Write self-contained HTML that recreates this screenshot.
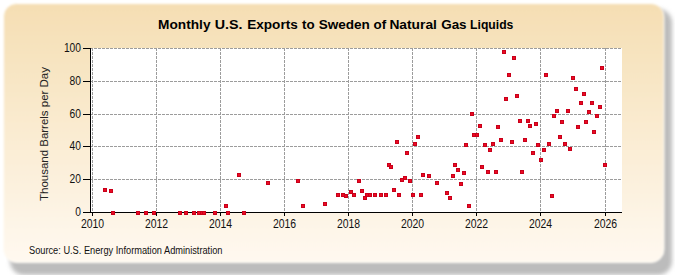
<!DOCTYPE html>
<html><head><meta charset="utf-8"><style>
html,body{margin:0;padding:0;background:#fff;}
svg{display:block;font-family:"Liberation Sans",sans-serif;}
</style></head><body>
<svg width="675" height="275" viewBox="0 0 675 275">
<defs>
<linearGradient id="bg" x1="0" y1="0" x2="0" y2="1">
<stop offset="0" stop-color="#F5DEB3"/>
<stop offset="1" stop-color="#FFF9F0"/>
</linearGradient>
<filter id="sh" x="-5%" y="-5%" width="110%" height="110%"><feGaussianBlur stdDeviation="2.1"/></filter><filter id="soft" x="-2%" y="-2%" width="104%" height="104%"><feGaussianBlur stdDeviation="1"/></filter>
</defs>
<rect x="0" y="0" width="675" height="275" fill="#fff"/>
<rect x="10" y="9" width="662" height="266" rx="14" fill="#bcbcbc" filter="url(#sh)"/>
<rect x="3.5" y="3.5" width="660.5" height="259" rx="13" fill="url(#bg)" stroke="#fffdf8" stroke-width="1" filter="url(#soft)"/>
<rect x="91" y="48" width="531" height="164" fill="#fff"/>
<g stroke="#9c9c9c" stroke-width="1" stroke-dasharray="3 1" shape-rendering="crispEdges">
<line x1="92.5" y1="48" x2="92.5" y2="212"/>
<line x1="156.5" y1="48" x2="156.5" y2="212"/>
<line x1="220.5" y1="48" x2="220.5" y2="212"/>
<line x1="284.5" y1="48" x2="284.5" y2="212"/>
<line x1="348.5" y1="48" x2="348.5" y2="212"/>
<line x1="412.5" y1="48" x2="412.5" y2="212"/>
<line x1="476.5" y1="48" x2="476.5" y2="212"/>
<line x1="540.5" y1="48" x2="540.5" y2="212"/>
<line x1="605.5" y1="48" x2="605.5" y2="212"/>
<line x1="90" y1="179.5" x2="622" y2="179.5"/>
<line x1="90" y1="146.5" x2="622" y2="146.5"/>
<line x1="90" y1="114.5" x2="622" y2="114.5"/>
<line x1="90" y1="81.5" x2="622" y2="81.5"/>
<line x1="90" y1="48.5" x2="622" y2="48.5"/>
</g>
<g stroke="#000" stroke-width="1" shape-rendering="crispEdges">
<line x1="90.5" y1="48" x2="90.5" y2="213"/>
<line x1="90" y1="212.5" x2="622" y2="212.5"/>
<line x1="92.5" y1="212" x2="92.5" y2="216"/>
<line x1="156.5" y1="212" x2="156.5" y2="216"/>
<line x1="220.5" y1="212" x2="220.5" y2="216"/>
<line x1="284.5" y1="212" x2="284.5" y2="216"/>
<line x1="348.5" y1="212" x2="348.5" y2="216"/>
<line x1="412.5" y1="212" x2="412.5" y2="216"/>
<line x1="476.5" y1="212" x2="476.5" y2="216"/>
<line x1="540.5" y1="212" x2="540.5" y2="216"/>
<line x1="605.5" y1="212" x2="605.5" y2="216"/>
<line x1="83" y1="212.5" x2="91" y2="212.5"/>
<line x1="83" y1="179.5" x2="91" y2="179.5"/>
<line x1="83" y1="146.5" x2="91" y2="146.5"/>
<line x1="83" y1="114.5" x2="91" y2="114.5"/>
<line x1="83" y1="81.5" x2="91" y2="81.5"/>
<line x1="83" y1="48.5" x2="91" y2="48.5"/>
</g>
<text y="28.5" font-size="13.4" font-weight="bold" fill="#000"><tspan x="158.1" textLength="52.4" lengthAdjust="spacingAndGlyphs">Monthly</tspan><tspan x="214.8" textLength="27.8" lengthAdjust="spacingAndGlyphs">U.S.</tspan><tspan x="247.2" textLength="50.6" lengthAdjust="spacingAndGlyphs">Exports</tspan><tspan x="302.0" textLength="12.6" lengthAdjust="spacingAndGlyphs">to</tspan><tspan x="318.7" textLength="51.2" lengthAdjust="spacingAndGlyphs">Sweden</tspan><tspan x="373.6" textLength="12.6" lengthAdjust="spacingAndGlyphs">of</tspan><tspan x="389.4" textLength="47.5" lengthAdjust="spacingAndGlyphs">Natural</tspan><tspan x="441.2" textLength="25.4" lengthAdjust="spacingAndGlyphs">Gas</tspan><tspan x="470.1" textLength="43.3" lengthAdjust="spacingAndGlyphs">Liquids</tspan></text>
<g font-size="12" fill="#111" text-anchor="middle">
<text x="92.5" y="227.5" textLength="23.2" lengthAdjust="spacingAndGlyphs">2010</text>
<text x="156.5" y="227.5" textLength="23.2" lengthAdjust="spacingAndGlyphs">2012</text>
<text x="220.5" y="227.5" textLength="23.2" lengthAdjust="spacingAndGlyphs">2014</text>
<text x="284.5" y="227.5" textLength="23.2" lengthAdjust="spacingAndGlyphs">2016</text>
<text x="348.5" y="227.5" textLength="23.2" lengthAdjust="spacingAndGlyphs">2018</text>
<text x="412.5" y="227.5" textLength="23.2" lengthAdjust="spacingAndGlyphs">2020</text>
<text x="476.5" y="227.5" textLength="23.2" lengthAdjust="spacingAndGlyphs">2022</text>
<text x="540.5" y="227.5" textLength="23.2" lengthAdjust="spacingAndGlyphs">2024</text>
<text x="605.5" y="227.5" textLength="23.2" lengthAdjust="spacingAndGlyphs">2026</text>
</g>
<g font-size="12" fill="#111" text-anchor="end">
<text x="81" y="215.5" textLength="5.7" lengthAdjust="spacingAndGlyphs">0</text>
<text x="81" y="182.5" textLength="11.4" lengthAdjust="spacingAndGlyphs">20</text>
<text x="81" y="149.5" textLength="11.4" lengthAdjust="spacingAndGlyphs">40</text>
<text x="81" y="117.5" textLength="11.4" lengthAdjust="spacingAndGlyphs">60</text>
<text x="81" y="84.5" textLength="11.4" lengthAdjust="spacingAndGlyphs">80</text>
<text x="81" y="51.5" textLength="17.1" lengthAdjust="spacingAndGlyphs">100</text>
</g>
<text transform="translate(48,134) rotate(-90)" text-anchor="middle" font-size="11" fill="#222" textLength="134" lengthAdjust="spacingAndGlyphs">Thousand Barrels per Day</text>
<text x="29" y="253.5" font-size="10" fill="#111" textLength="193.5" lengthAdjust="spacingAndGlyphs">Source: U.S. Energy Information Administration</text>
<g fill="#C8001A" shape-rendering="crispEdges">
<rect x="103" y="188" width="4" height="4"/><rect x="104" y="189" width="2" height="2" fill="#EC0A22"/>
<rect x="109" y="189" width="4" height="4"/><rect x="110" y="190" width="2" height="2" fill="#EC0A22"/>
<rect x="111" y="211" width="4" height="4"/><rect x="112" y="212" width="2" height="2" fill="#EC0A22"/>
<rect x="136" y="211" width="4" height="4"/><rect x="137" y="212" width="2" height="2" fill="#EC0A22"/>
<rect x="144" y="211" width="4" height="4"/><rect x="145" y="212" width="2" height="2" fill="#EC0A22"/>
<rect x="152" y="211" width="4" height="4"/><rect x="153" y="212" width="2" height="2" fill="#EC0A22"/>
<rect x="178" y="211" width="4" height="4"/><rect x="179" y="212" width="2" height="2" fill="#EC0A22"/>
<rect x="184" y="211" width="4" height="4"/><rect x="185" y="212" width="2" height="2" fill="#EC0A22"/>
<rect x="192" y="211" width="4" height="4"/><rect x="193" y="212" width="2" height="2" fill="#EC0A22"/>
<rect x="197" y="211" width="4" height="4"/><rect x="198" y="212" width="2" height="2" fill="#EC0A22"/>
<rect x="200" y="211" width="4" height="4"/><rect x="201" y="212" width="2" height="2" fill="#EC0A22"/>
<rect x="202" y="211" width="4" height="4"/><rect x="203" y="212" width="2" height="2" fill="#EC0A22"/>
<rect x="213" y="211" width="4" height="4"/><rect x="214" y="212" width="2" height="2" fill="#EC0A22"/>
<rect x="224" y="204" width="4" height="4"/><rect x="225" y="205" width="2" height="2" fill="#EC0A22"/>
<rect x="226" y="211" width="4" height="4"/><rect x="227" y="212" width="2" height="2" fill="#EC0A22"/>
<rect x="237" y="173" width="4" height="4"/><rect x="238" y="174" width="2" height="2" fill="#EC0A22"/>
<rect x="242" y="211" width="4" height="4"/><rect x="243" y="212" width="2" height="2" fill="#EC0A22"/>
<rect x="266" y="181" width="4" height="4"/><rect x="267" y="182" width="2" height="2" fill="#EC0A22"/>
<rect x="296" y="179" width="4" height="4"/><rect x="297" y="180" width="2" height="2" fill="#EC0A22"/>
<rect x="301" y="204" width="4" height="4"/><rect x="302" y="205" width="2" height="2" fill="#EC0A22"/>
<rect x="323" y="202" width="4" height="4"/><rect x="324" y="203" width="2" height="2" fill="#EC0A22"/>
<rect x="336" y="193" width="4" height="4"/><rect x="337" y="194" width="2" height="2" fill="#EC0A22"/>
<rect x="341" y="193" width="4" height="4"/><rect x="342" y="194" width="2" height="2" fill="#EC0A22"/>
<rect x="344" y="194" width="4" height="4"/><rect x="345" y="195" width="2" height="2" fill="#EC0A22"/>
<rect x="349" y="190" width="4" height="4"/><rect x="350" y="191" width="2" height="2" fill="#EC0A22"/>
<rect x="352" y="193" width="4" height="4"/><rect x="353" y="194" width="2" height="2" fill="#EC0A22"/>
<rect x="357" y="179" width="4" height="4"/><rect x="358" y="180" width="2" height="2" fill="#EC0A22"/>
<rect x="360" y="189" width="4" height="4"/><rect x="361" y="190" width="2" height="2" fill="#EC0A22"/>
<rect x="363" y="196" width="4" height="4"/><rect x="364" y="197" width="2" height="2" fill="#EC0A22"/>
<rect x="365" y="193" width="4" height="4"/><rect x="366" y="194" width="2" height="2" fill="#EC0A22"/>
<rect x="368" y="193" width="4" height="4"/><rect x="369" y="194" width="2" height="2" fill="#EC0A22"/>
<rect x="373" y="193" width="4" height="4"/><rect x="374" y="194" width="2" height="2" fill="#EC0A22"/>
<rect x="379" y="193" width="4" height="4"/><rect x="380" y="194" width="2" height="2" fill="#EC0A22"/>
<rect x="384" y="193" width="4" height="4"/><rect x="385" y="194" width="2" height="2" fill="#EC0A22"/>
<rect x="387" y="163" width="4" height="4"/><rect x="388" y="164" width="2" height="2" fill="#EC0A22"/>
<rect x="389" y="165" width="4" height="4"/><rect x="390" y="166" width="2" height="2" fill="#EC0A22"/>
<rect x="392" y="188" width="4" height="4"/><rect x="393" y="189" width="2" height="2" fill="#EC0A22"/>
<rect x="395" y="140" width="4" height="4"/><rect x="396" y="141" width="2" height="2" fill="#EC0A22"/>
<rect x="397" y="193" width="4" height="4"/><rect x="398" y="194" width="2" height="2" fill="#EC0A22"/>
<rect x="400" y="178" width="4" height="4"/><rect x="401" y="179" width="2" height="2" fill="#EC0A22"/>
<rect x="403" y="176" width="4" height="4"/><rect x="404" y="177" width="2" height="2" fill="#EC0A22"/>
<rect x="405" y="151" width="4" height="4"/><rect x="406" y="152" width="2" height="2" fill="#EC0A22"/>
<rect x="408" y="179" width="4" height="4"/><rect x="409" y="180" width="2" height="2" fill="#EC0A22"/>
<rect x="411" y="193" width="4" height="4"/><rect x="412" y="194" width="2" height="2" fill="#EC0A22"/>
<rect x="413" y="142" width="4" height="4"/><rect x="414" y="143" width="2" height="2" fill="#EC0A22"/>
<rect x="416" y="135" width="4" height="4"/><rect x="417" y="136" width="2" height="2" fill="#EC0A22"/>
<rect x="419" y="193" width="4" height="4"/><rect x="420" y="194" width="2" height="2" fill="#EC0A22"/>
<rect x="421" y="173" width="4" height="4"/><rect x="422" y="174" width="2" height="2" fill="#EC0A22"/>
<rect x="427" y="174" width="4" height="4"/><rect x="428" y="175" width="2" height="2" fill="#EC0A22"/>
<rect x="435" y="181" width="4" height="4"/><rect x="436" y="182" width="2" height="2" fill="#EC0A22"/>
<rect x="445" y="191" width="4" height="4"/><rect x="446" y="192" width="2" height="2" fill="#EC0A22"/>
<rect x="448" y="196" width="4" height="4"/><rect x="449" y="197" width="2" height="2" fill="#EC0A22"/>
<rect x="451" y="174" width="4" height="4"/><rect x="452" y="175" width="2" height="2" fill="#EC0A22"/>
<rect x="453" y="163" width="4" height="4"/><rect x="454" y="164" width="2" height="2" fill="#EC0A22"/>
<rect x="456" y="168" width="4" height="4"/><rect x="457" y="169" width="2" height="2" fill="#EC0A22"/>
<rect x="459" y="182" width="4" height="4"/><rect x="460" y="183" width="2" height="2" fill="#EC0A22"/>
<rect x="462" y="171" width="4" height="4"/><rect x="463" y="172" width="2" height="2" fill="#EC0A22"/>
<rect x="464" y="143" width="4" height="4"/><rect x="465" y="144" width="2" height="2" fill="#EC0A22"/>
<rect x="467" y="204" width="4" height="4"/><rect x="468" y="205" width="2" height="2" fill="#EC0A22"/>
<rect x="470" y="112" width="4" height="4"/><rect x="471" y="113" width="2" height="2" fill="#EC0A22"/>
<rect x="472" y="133" width="4" height="4"/><rect x="473" y="134" width="2" height="2" fill="#EC0A22"/>
<rect x="475" y="133" width="4" height="4"/><rect x="476" y="134" width="2" height="2" fill="#EC0A22"/>
<rect x="478" y="124" width="4" height="4"/><rect x="479" y="125" width="2" height="2" fill="#EC0A22"/>
<rect x="480" y="165" width="4" height="4"/><rect x="481" y="166" width="2" height="2" fill="#EC0A22"/>
<rect x="483" y="143" width="4" height="4"/><rect x="484" y="144" width="2" height="2" fill="#EC0A22"/>
<rect x="486" y="170" width="4" height="4"/><rect x="487" y="171" width="2" height="2" fill="#EC0A22"/>
<rect x="488" y="148" width="4" height="4"/><rect x="489" y="149" width="2" height="2" fill="#EC0A22"/>
<rect x="491" y="142" width="4" height="4"/><rect x="492" y="143" width="2" height="2" fill="#EC0A22"/>
<rect x="494" y="170" width="4" height="4"/><rect x="495" y="171" width="2" height="2" fill="#EC0A22"/>
<rect x="496" y="125" width="4" height="4"/><rect x="497" y="126" width="2" height="2" fill="#EC0A22"/>
<rect x="499" y="138" width="4" height="4"/><rect x="500" y="139" width="2" height="2" fill="#EC0A22"/>
<rect x="502" y="50" width="4" height="4"/><rect x="503" y="51" width="2" height="2" fill="#EC0A22"/>
<rect x="504" y="97" width="4" height="4"/><rect x="505" y="98" width="2" height="2" fill="#EC0A22"/>
<rect x="507" y="73" width="4" height="4"/><rect x="508" y="74" width="2" height="2" fill="#EC0A22"/>
<rect x="510" y="140" width="4" height="4"/><rect x="511" y="141" width="2" height="2" fill="#EC0A22"/>
<rect x="512" y="56" width="4" height="4"/><rect x="513" y="57" width="2" height="2" fill="#EC0A22"/>
<rect x="515" y="94" width="4" height="4"/><rect x="516" y="95" width="2" height="2" fill="#EC0A22"/>
<rect x="518" y="119" width="4" height="4"/><rect x="519" y="120" width="2" height="2" fill="#EC0A22"/>
<rect x="520" y="170" width="4" height="4"/><rect x="521" y="171" width="2" height="2" fill="#EC0A22"/>
<rect x="523" y="138" width="4" height="4"/><rect x="524" y="139" width="2" height="2" fill="#EC0A22"/>
<rect x="526" y="119" width="4" height="4"/><rect x="527" y="120" width="2" height="2" fill="#EC0A22"/>
<rect x="528" y="124" width="4" height="4"/><rect x="529" y="125" width="2" height="2" fill="#EC0A22"/>
<rect x="531" y="151" width="4" height="4"/><rect x="532" y="152" width="2" height="2" fill="#EC0A22"/>
<rect x="534" y="122" width="4" height="4"/><rect x="535" y="123" width="2" height="2" fill="#EC0A22"/>
<rect x="536" y="143" width="4" height="4"/><rect x="537" y="144" width="2" height="2" fill="#EC0A22"/>
<rect x="539" y="158" width="4" height="4"/><rect x="540" y="159" width="2" height="2" fill="#EC0A22"/>
<rect x="542" y="148" width="4" height="4"/><rect x="543" y="149" width="2" height="2" fill="#EC0A22"/>
<rect x="544" y="73" width="4" height="4"/><rect x="545" y="74" width="2" height="2" fill="#EC0A22"/>
<rect x="547" y="142" width="4" height="4"/><rect x="548" y="143" width="2" height="2" fill="#EC0A22"/>
<rect x="550" y="194" width="4" height="4"/><rect x="551" y="195" width="2" height="2" fill="#EC0A22"/>
<rect x="552" y="114" width="4" height="4"/><rect x="553" y="115" width="2" height="2" fill="#EC0A22"/>
<rect x="555" y="109" width="4" height="4"/><rect x="556" y="110" width="2" height="2" fill="#EC0A22"/>
<rect x="558" y="135" width="4" height="4"/><rect x="559" y="136" width="2" height="2" fill="#EC0A22"/>
<rect x="560" y="120" width="4" height="4"/><rect x="561" y="121" width="2" height="2" fill="#EC0A22"/>
<rect x="563" y="142" width="4" height="4"/><rect x="564" y="143" width="2" height="2" fill="#EC0A22"/>
<rect x="566" y="109" width="4" height="4"/><rect x="567" y="110" width="2" height="2" fill="#EC0A22"/>
<rect x="568" y="147" width="4" height="4"/><rect x="569" y="148" width="2" height="2" fill="#EC0A22"/>
<rect x="571" y="76" width="4" height="4"/><rect x="572" y="77" width="2" height="2" fill="#EC0A22"/>
<rect x="574" y="87" width="4" height="4"/><rect x="575" y="88" width="2" height="2" fill="#EC0A22"/>
<rect x="576" y="125" width="4" height="4"/><rect x="577" y="126" width="2" height="2" fill="#EC0A22"/>
<rect x="579" y="101" width="4" height="4"/><rect x="580" y="102" width="2" height="2" fill="#EC0A22"/>
<rect x="582" y="92" width="4" height="4"/><rect x="583" y="93" width="2" height="2" fill="#EC0A22"/>
<rect x="584" y="120" width="4" height="4"/><rect x="585" y="121" width="2" height="2" fill="#EC0A22"/>
<rect x="587" y="110" width="4" height="4"/><rect x="588" y="111" width="2" height="2" fill="#EC0A22"/>
<rect x="590" y="101" width="4" height="4"/><rect x="591" y="102" width="2" height="2" fill="#EC0A22"/>
<rect x="592" y="130" width="4" height="4"/><rect x="593" y="131" width="2" height="2" fill="#EC0A22"/>
<rect x="595" y="114" width="4" height="4"/><rect x="596" y="115" width="2" height="2" fill="#EC0A22"/>
<rect x="598" y="105" width="4" height="4"/><rect x="599" y="106" width="2" height="2" fill="#EC0A22"/>
<rect x="600" y="66" width="4" height="4"/><rect x="601" y="67" width="2" height="2" fill="#EC0A22"/>
<rect x="603" y="163" width="4" height="4"/><rect x="604" y="164" width="2" height="2" fill="#EC0A22"/>
</g>
</svg>
</body></html>
